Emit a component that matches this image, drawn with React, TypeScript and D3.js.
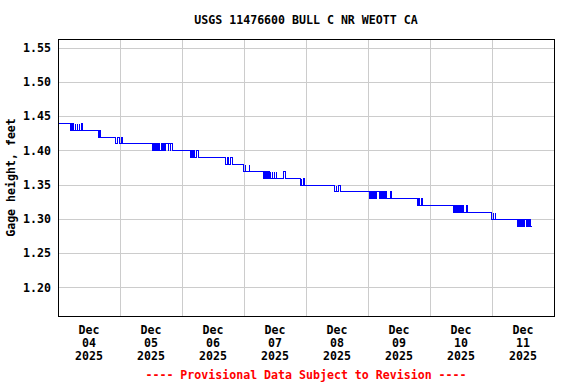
import { useEffect, useRef } from 'react';
import * as d3 from 'd3';

// step changes (15-minute gage readings)
const stepTimes = [
  "2025-12-04 00:00",
  "2025-12-04 04:30", "2025-12-04 05:00", "2025-12-04 05:15", "2025-12-04 05:30", "2025-12-04 05:45",
  "2025-12-04 06:30", "2025-12-04 06:45", "2025-12-04 07:15", "2025-12-04 07:30", "2025-12-04 08:00",
  "2025-12-04 08:15", "2025-12-04 09:00", "2025-12-04 09:15",
  "2025-12-04 15:30", "2025-12-04 15:45", "2025-12-04 16:15",
  "2025-12-04 22:15", "2025-12-04 23:00", "2025-12-04 23:45", "2025-12-05 00:15", "2025-12-05 00:45",
  "2025-12-05 12:15", "2025-12-05 12:30", "2025-12-05 12:45", "2025-12-05 13:15", "2025-12-05 13:30",
  "2025-12-05 14:00", "2025-12-05 14:15", "2025-12-05 14:45", "2025-12-05 15:00", "2025-12-05 15:45",
  "2025-12-05 16:15", "2025-12-05 16:45", "2025-12-05 17:00", "2025-12-05 17:15", "2025-12-05 18:30",
  "2025-12-05 18:45", "2025-12-05 19:15", "2025-12-05 19:30", "2025-12-05 20:15",
  "2025-12-06 03:00", "2025-12-06 03:30", "2025-12-06 03:45", "2025-12-06 04:15", "2025-12-06 04:30",
  "2025-12-06 05:30", "2025-12-06 06:15",
  "2025-12-06 16:30", "2025-12-06 17:30", "2025-12-06 17:45", "2025-12-06 18:45", "2025-12-06 19:15",
  "2025-12-06 23:30", "2025-12-07 00:15", "2025-12-07 00:30", "2025-12-07 01:45", "2025-12-07 02:00",
  "2025-12-07 07:30", "2025-12-07 07:45", "2025-12-07 08:00", "2025-12-07 08:30", "2025-12-07 08:45",
  "2025-12-07 09:15", "2025-12-07 09:30", "2025-12-07 10:00", "2025-12-07 10:15", "2025-12-07 10:45",
  "2025-12-07 11:00", "2025-12-07 11:30", "2025-12-07 11:45", "2025-12-07 12:15", "2025-12-07 12:30",
  "2025-12-07 15:15", "2025-12-07 15:45",
  "2025-12-07 21:30", "2025-12-07 22:00", "2025-12-07 22:15", "2025-12-07 22:45", "2025-12-07 23:15",
  "2025-12-08 11:00", "2025-12-08 11:30", "2025-12-08 11:45", "2025-12-08 12:30", "2025-12-08 13:00",
  "2025-12-09 00:30", "2025-12-09 00:45", "2025-12-09 01:00", "2025-12-09 01:30", "2025-12-09 01:45",
  "2025-12-09 02:30", "2025-12-09 02:45", "2025-12-09 03:00", "2025-12-09 04:15", "2025-12-09 04:45",
  "2025-12-09 05:00", "2025-12-09 05:30", "2025-12-09 05:45", "2025-12-09 06:15", "2025-12-09 06:30",
  "2025-12-09 06:45", "2025-12-09 07:00", "2025-12-09 08:30", "2025-12-09 09:00",
  "2025-12-09 19:00", "2025-12-09 19:30", "2025-12-09 19:45", "2025-12-09 20:30", "2025-12-09 21:00",
  "2025-12-10 09:00", "2025-12-10 09:15", "2025-12-10 09:45", "2025-12-10 10:15", "2025-12-10 10:30",
  "2025-12-10 11:00", "2025-12-10 11:15", "2025-12-10 11:45", "2025-12-10 12:00", "2025-12-10 12:30",
  "2025-12-10 12:45", "2025-12-10 14:00", "2025-12-10 14:30",
  "2025-12-10 23:45", "2025-12-11 00:15", "2025-12-11 00:30", "2025-12-11 01:00", "2025-12-11 01:15",
  "2025-12-11 09:30", "2025-12-11 09:45", "2025-12-11 10:15", "2025-12-11 10:30", "2025-12-11 11:00",
  "2025-12-11 11:15", "2025-12-11 11:30", "2025-12-11 12:00", "2025-12-11 12:15", "2025-12-11 12:30",
  "2025-12-11 13:00", "2025-12-11 13:15", "2025-12-11 13:30", "2025-12-11 13:45", "2025-12-11 14:15",
  "2025-12-11 14:30", "2025-12-11 14:45", "2025-12-11 15:15",
];

const stepValues = [
  1.44,
  1.43, 1.44, 1.43, 1.44, 1.43,
  1.44, 1.43, 1.44, 1.43, 1.44,
  1.43, 1.44, 1.43,
  1.42, 1.43, 1.42,
  1.41, 1.42, 1.41, 1.42, 1.41,
  1.40, 1.41, 1.40, 1.41, 1.40,
  1.41, 1.40, 1.41, 1.40, 1.41,
  1.40, 1.41, 1.40, 1.41, 1.40,
  1.41, 1.40, 1.41, 1.40,
  1.39, 1.40, 1.39, 1.40, 1.39,
  1.40, 1.39,
  1.38, 1.39, 1.38, 1.39, 1.38,
  1.37, 1.38, 1.37, 1.38, 1.37,
  1.36, 1.37, 1.36, 1.37, 1.36,
  1.37, 1.36, 1.37, 1.36, 1.37,
  1.36, 1.37, 1.36, 1.37, 1.36,
  1.37, 1.36,
  1.35, 1.36, 1.35, 1.36, 1.35,
  1.34, 1.35, 1.34, 1.35, 1.34,
  1.33, 1.34, 1.33, 1.34, 1.33,
  1.34, 1.33, 1.34, 1.33, 1.34,
  1.33, 1.34, 1.33, 1.34, 1.33,
  1.34, 1.33, 1.34, 1.33,
  1.32, 1.33, 1.32, 1.33, 1.32,
  1.31, 1.32, 1.31, 1.32, 1.31,
  1.32, 1.31, 1.32, 1.31, 1.32,
  1.31, 1.32, 1.31,
  1.30, 1.31, 1.30, 1.31, 1.30,
  1.29, 1.30, 1.29, 1.30, 1.29,
  1.30, 1.29, 1.30, 1.29, 1.30,
  1.29, 1.30, 1.29, 1.30, 1.29,
  1.30, 1.29, 1.29,
];

const yTicks = [1.20, 1.25, 1.30, 1.35, 1.40, 1.45, 1.50, 1.55];
const dayTicks = ["2025-12-04", "2025-12-05", "2025-12-06", "2025-12-07", "2025-12-08", "2025-12-09", "2025-12-10", "2025-12-11", "2025-12-12"];

const title = "USGS 11476600 BULL C NR WEOTT CA";
const yLabel = "Gage height, feet";
const footer = "---- Provisional Data Subject to Revision ----";

const App = () => {
  const svgRef = useRef(null);

  useEffect(() => {
    document.body.style.margin = "0";

    const width = 576;
    const height = 384;
    const left = 58, right = 554, top = 39, bottom = 316;
    const font = "'DejaVu Sans Mono', monospace";

    const svg = d3.select(svgRef.current)
      .attr("width", width)
      .attr("height", height)
      .style("display", "block")
      .style("background", "#fff");

    svg.selectAll("*").remove();

    const parseTime = d3.timeParse("%Y-%m-%d %H:%M");
    const parseDay = d3.timeParse("%Y-%m-%d");
    const days = dayTicks.map(d => parseDay(d));

    const x = d3.scaleTime()
      .domain([days[0], days[days.length - 1]])
      .range([left, right]);

    const y = d3.scaleLinear()
      .domain([1.1584, 1.5624])
      .range([bottom, top]);

    const data = stepTimes.map((t, i) => ({ t: parseTime(t), v: stepValues[i] }));

    // gridlines
    svg.append("g")
      .selectAll("line.h")
      .data(yTicks)
      .enter()
      .append("line")
      .attr("x1", left)
      .attr("x2", right)
      .attr("y1", d => Math.round(y(d)) + 0.5)
      .attr("y2", d => Math.round(y(d)) + 0.5)
      .attr("stroke", "#cccccc")
      .attr("shape-rendering", "crispEdges");

    svg.append("g")
      .selectAll("line.v")
      .data(days.slice(1, -1))
      .enter()
      .append("line")
      .attr("x1", d => Math.round(x(d)) + 0.5)
      .attr("x2", d => Math.round(x(d)) + 0.5)
      .attr("y1", top)
      .attr("y2", bottom)
      .attr("stroke", "#cccccc")
      .attr("shape-rendering", "crispEdges");

    // data line, snapped to whole pixels like the original plotter
    const line = d3.line()
      .x(d => Math.round(x(d.t)) + 0.5)
      .y(d => Math.round(y(d.v)) + 0.5)
      .curve(d3.curveStepAfter);

    svg.append("path")
      .datum(data)
      .attr("d", line)
      .attr("fill", "none")
      .attr("stroke", "#0000ff")
      .attr("stroke-width", 1)
      .attr("shape-rendering", "crispEdges");

    // frame
    svg.append("rect")
      .attr("x", left + 0.5)
      .attr("y", top + 0.5)
      .attr("width", right - left)
      .attr("height", bottom - top)
      .attr("fill", "none")
      .attr("stroke", "#000")
      .attr("shape-rendering", "crispEdges");

    const text = (sel) => sel
      .style("font-family", font)
      .style("font-weight", "bold")
      .style("font-size", "11.6px");

    // y tick labels
    svg.append("g")
      .selectAll("text")
      .data(yTicks)
      .enter()
      .append("text")
      .call(text)
      .attr("x", 51)
      .attr("y", d => y(d))
      .attr("dy", "0.36em")
      .attr("text-anchor", "end")
      .text(d => d.toFixed(2));

    // x labels at noon of each day
    const labels = svg.append("g")
      .selectAll("g")
      .data(days.slice(0, -1))
      .enter()
      .append("g")
      .attr("transform", d => `translate(${x(d3.timeHour.offset(d, 12))},0)`);

    labels.append("text").call(text).attr("y", 334).attr("text-anchor", "middle").text(d => d3.timeFormat("%b")(d));
    labels.append("text").call(text).attr("y", 347).attr("text-anchor", "middle").text(d => d3.timeFormat("%d")(d));
    labels.append("text").call(text).attr("y", 360).attr("text-anchor", "middle").text(d => d3.timeFormat("%Y")(d));

    svg.append("text")
      .call(text)
      .attr("x", (left + right) / 2)
      .attr("y", 24)
      .attr("text-anchor", "middle")
      .text(title);

    svg.append("text")
      .call(text)
      .attr("transform", `translate(15,${(top + bottom) / 2}) rotate(-90)`)
      .attr("text-anchor", "middle")
      .text(yLabel);

    svg.append("text")
      .call(text)
      .attr("x", (left + right) / 2)
      .attr("y", 379)
      .attr("text-anchor", "middle")
      .attr("fill", "#ff0000")
      .text(footer);
  }, []);

  return (
    <div>
      <svg ref={svgRef}></svg>
    </div>
  );
};

export default App;
